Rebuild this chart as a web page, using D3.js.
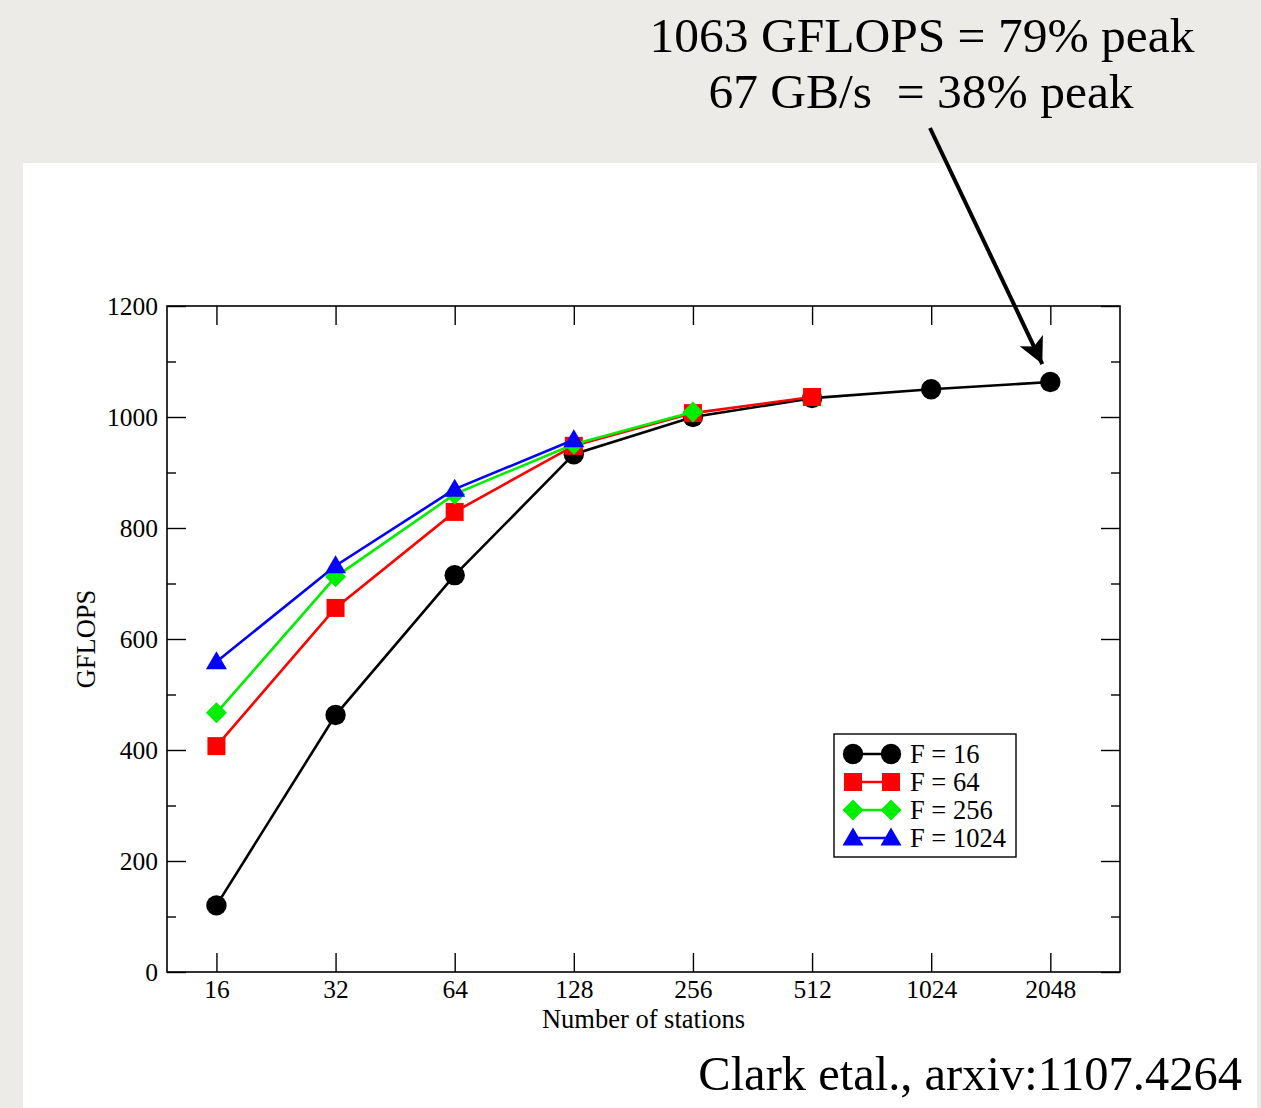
<!DOCTYPE html>
<html>
<head>
<meta charset="utf-8">
<script src="https://cdn.jsdelivr.net/npm/d3@7"></script>
<style>
  html, body { margin: 0; padding: 0; background: #ecebe7; }
  svg { display: block; }
  text { font-family: "Liberation Serif", "DejaVu Serif", serif; fill: #000; }
</style>
</head>
<body>
<svg id="chart" width="1261" height="1108"></svg>
<script>
// Number of stations (x) and sustained GFLOPS for each F value
const stations = [16, 32, 64, 128, 256, 512, 1024, 2048];
const gflopsF16 = [120, 463, 715, 933, 1000, 1034, 1050, 1063];
const gflopsF64 = [407, 656, 829, 948, 1007, 1036];
const gflopsF256 = [467, 712, 861, 951, 1009];
const gflopsF1024 = [559, 732, 870, 959];

const seriesLabels = ["F = 16", "F = 64", "F = 256", "F = 1024"];
const seriesColors = ["#000000", "#ff0000", "#00ee00", "#0000ff"];
const seriesSymbols = ["circle", "square", "diamond", "triangle"];
const seriesValues = [gflopsF16, gflopsF64, gflopsF256, gflopsF1024];

const xTickLabels = ["16", "32", "64", "128", "256", "512", "1024", "2048"];
const yMajorTicks = [0, 200, 400, 600, 800, 1000, 1200];
const yMinorTicks = [100, 300, 500, 700, 900, 1100];

const svg = d3.select("#chart");

// white sheet behind the plot
svg.append("rect")
  .attr("x", 23).attr("y", 163)
  .attr("width", 1234).attr("height", 945)
  .attr("fill", "#ffffff");

const plot = { left: 167, top: 306, right: 1120, bottom: 972 };

const x = d3.scaleLog().base(2)
  .domain([12, 3072])
  .range([plot.left, plot.right]);

const y = d3.scaleLinear()
  .domain([0, 1200])
  .range([plot.bottom, plot.top]);

const tickFont = "25.5px";

// left axis: labelled majors, inward ticks
svg.append("g").attr("transform", `translate(${plot.left},0)`)
  .call(d3.axisLeft(y).tickValues(yMajorTicks).tickSize(-19).tickPadding(9).tickFormat(d3.format("d")));
svg.append("g").attr("transform", `translate(${plot.left},0)`)
  .call(d3.axisLeft(y).tickValues(yMinorTicks).tickSize(-9).tickFormat(""));

// right axis: ticks only
svg.append("g").attr("transform", `translate(${plot.right},0)`)
  .call(d3.axisRight(y).tickValues(yMajorTicks).tickSize(-19).tickFormat(""));
svg.append("g").attr("transform", `translate(${plot.right},0)`)
  .call(d3.axisRight(y).tickValues(yMinorTicks).tickSize(-9).tickFormat(""));

// bottom axis with station counts
svg.append("g").attr("transform", `translate(0,${plot.bottom})`)
  .call(d3.axisBottom(x).tickValues(stations).tickSize(-19).tickPadding(8)
    .tickFormat((d, i) => xTickLabels[i]));

// top axis: ticks only
svg.append("g").attr("transform", `translate(0,${plot.top})`)
  .call(d3.axisTop(x).tickValues(stations).tickSize(-19).tickFormat(""));

svg.selectAll(".domain").remove();
svg.selectAll(".tick line").attr("stroke", "#000").attr("stroke-width", 1.4);
svg.selectAll(".tick text").style("font-size", tickFont).style("font-family", '"Liberation Serif", serif');

// frame
svg.append("rect")
  .attr("x", plot.left).attr("y", plot.top)
  .attr("width", plot.right - plot.left).attr("height", plot.bottom - plot.top)
  .attr("fill", "none").attr("stroke", "#000").attr("stroke-width", 1.6);

// axis titles
svg.append("text")
  .attr("x", (plot.left + plot.right) / 2)
  .attr("y", 1028)
  .attr("text-anchor", "middle")
  .style("font-size", "26.5px")
  .text("Number of stations");

svg.append("text")
  .attr("transform", `translate(95,${(plot.top + plot.bottom) / 2}) rotate(-90)`)
  .attr("text-anchor", "middle")
  .style("font-size", "26.5px")
  .text("GFLOPS");

// marker shapes
function symbolPath(kind) {
  if (kind === "circle") return d3.symbol().type(d3.symbolCircle).size(Math.PI * 10.2 * 10.2)();
  if (kind === "square") return d3.symbol().type(d3.symbolSquare).size(18 * 18)();
  if (kind === "diamond") return "M0,-10.5L10.5,0L0,10.5L-10.5,0Z";
  return "M0,-10.5L10.5,7.5L-10.5,7.5Z";
}

const line = d3.line()
  .x((d, i) => x(stations[i]))
  .y(d => y(d));

seriesValues.forEach((vals, s) => {
  const g = svg.append("g");
  g.append("path")
    .attr("d", line(vals))
    .attr("fill", "none")
    .attr("stroke", seriesColors[s])
    .attr("stroke-width", 2.6);
  g.selectAll("path.mk")
    .data(vals)
    .enter().append("path")
    .attr("class", "mk")
    .attr("d", symbolPath(seriesSymbols[s]))
    .attr("transform", (d, i) => `translate(${x(stations[i])},${y(d)})`)
    .attr("fill", seriesColors[s]);
});

// legend
const legend = svg.append("g");
legend.append("rect")
  .attr("x", 834).attr("y", 734)
  .attr("width", 182).attr("height", 123)
  .attr("fill", "#fff").attr("stroke", "#000").attr("stroke-width", 1.4);

seriesLabels.forEach((lab, s) => {
  const cy = 754 + s * 28;
  legend.append("line")
    .attr("x1", 853).attr("x2", 891)
    .attr("y1", cy).attr("y2", cy)
    .attr("stroke", seriesColors[s]).attr("stroke-width", 2.6);
  [853, 891].forEach(cx => {
    legend.append("path")
      .attr("d", symbolPath(seriesSymbols[s]))
      .attr("transform", `translate(${cx},${cy})`)
      .attr("fill", seriesColors[s]);
  });
  legend.append("text")
    .attr("x", 910).attr("y", cy + 9)
    .style("font-size", "26.5px")
    .text(lab);
});

// headline annotation with arrow to the F = 16, 2048-station point
svg.append("text")
  .attr("x", 922).attr("y", 52)
  .attr("text-anchor", "middle")
  .style("font-size", "49.5px")
  .text("1063 GFLOPS = 79% peak");
svg.append("text")
  .attr("x", 921).attr("y", 108)
  .attr("text-anchor", "middle")
  .style("font-size", "49.5px")
  .style("white-space", "pre")
  .text("67 GB/s  = 38% peak");

svg.append("defs").append("marker")
  .attr("id", "arrowhead")
  .attr("viewBox", "0 0 10 10")
  .attr("refX", 10).attr("refY", 5)
  .attr("markerWidth", 6.5).attr("markerHeight", 6.5)
  .attr("markerUnits", "strokeWidth")
  .attr("orient", "auto")
  .append("path")
  .attr("d", "M0,0L10,5L0,10L2.5,5Z")
  .attr("fill", "#000");

const tip = { x: x(2048) - 8, y: y(gflopsF16[7]) - 18 };
svg.append("line")
  .attr("x1", 930).attr("y1", 128)
  .attr("x2", tip.x).attr("y2", tip.y)
  .attr("stroke", "#000").attr("stroke-width", 4)
  .attr("marker-end", "url(#arrowhead)");

// citation
svg.append("text")
  .attr("x", 1242).attr("y", 1090)
  .attr("text-anchor", "end")
  .style("font-size", "48.5px")
  .text("Clark etal., arxiv:1107.4264");
</script>
</body>
</html>
